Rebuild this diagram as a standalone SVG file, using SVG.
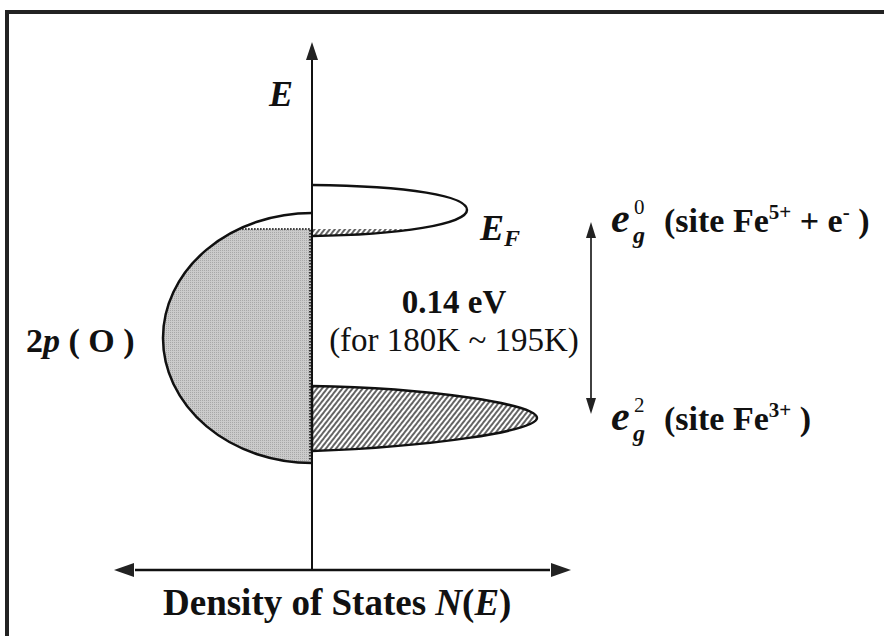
<svg xmlns="http://www.w3.org/2000/svg" width="884" height="636" viewBox="0 0 884 636">
<style>
.t{font-family:"Liberation Serif","Times New Roman",serif;fill:#111}
.b{font-weight:bold}
.i{font-style:italic}
.ol{stroke:#111;stroke-width:2.5;fill:none}
</style>
<defs>
<pattern id="grey" width="2" height="2" patternUnits="userSpaceOnUse">
<rect width="2" height="2" fill="#cbcbcb"/><rect width="1" height="1" fill="#a8a8a8"/>
</pattern>
<pattern id="hatch" width="4" height="4" patternUnits="userSpaceOnUse" patternTransform="rotate(38)">
<rect width="4" height="4" fill="#fff"/><line x1="1" y1="0" x2="1" y2="4" stroke="#222" stroke-width="1.4"/>
</pattern>
<clipPath id="belowEF"><rect x="312" y="229" width="200" height="20"/></clipPath>
</defs>
<rect width="884" height="636" fill="#fff"/>
<g id="frame">
<line x1="5" y1="12" x2="884" y2="12" stroke="#222" stroke-width="4"/>
<line x1="7" y1="10" x2="7" y2="636" stroke="#222" stroke-width="4"/>
</g>
<g id="bands">
<g id="o2p">
<path d="M312,229 L239.1,229 A149,125 0 0,0 312,463 Z" fill="url(#grey)"/>
<path d="M239.1,229 L310,229 L310,461" fill="none" stroke="#333" stroke-width="2" stroke-dasharray="1.5 1.5"/>
<path d="M312,213 A149,125 0 0,0 312,463" class="ol"/>
</g>
<g id="eg0">
<path d="M312,185 C410,186 467,196 467,210 C467,224 400,235 312,236 Z" fill="url(#hatch)" clip-path="url(#belowEF)"/>
<path d="M312,185 C410,186 467,196 467,210 C467,224 400,235 312,236" class="ol"/>
</g>
<g id="eg2">
<path d="M312,386 C430,388 537,404 537,418 C537,431 430,447 312,451 Z" class="ol" style="fill:url(#hatch)"/>
</g>
</g>
<g id="connectors">
<line x1="312" y1="570" x2="312" y2="56" stroke="#111" stroke-width="2"/>
<path d="M312,42 L306,60 L318,60 Z" fill="#222"/>
<line x1="135" y1="570" x2="550" y2="570" stroke="#111" stroke-width="2.5"/>
<path d="M114,570 L134,563 L134,577 Z" fill="#222"/>
<path d="M571,570 L551,563 L551,577 Z" fill="#222"/>
<line x1="591" y1="236" x2="591" y2="400" stroke="#111" stroke-width="1.6"/>
<path d="M591,222 L586,238 L596,238 Z" fill="#222"/>
<path d="M591,414 L586,398 L596,398 Z" fill="#222"/>
</g>
<g id="labels">
<text class="t b i" x="269" y="106" font-size="36">E</text>
<text class="t b i" x="480" y="240" font-size="36">E<tspan font-size="24" dy="6">F</tspan></text>
<text class="t b" x="454" y="313" font-size="33" text-anchor="middle">0.14 eV</text>
<text class="t" x="454" y="351" font-size="33" text-anchor="middle">(for 180K ~ 195K)</text>
<text class="t b" x="26" y="352" font-size="34">2<tspan class="i">p</tspan> ( O )</text>
<text class="t b" x="163" y="615" font-size="37">Density of States  <tspan class="i">N</tspan>(<tspan class="i">E</tspan>)</text>
<g id="eg0label">
<text class="t b i" x="611" y="232" font-size="42">e</text>
<text class="t" x="634" y="214" font-size="21">0</text>
<text class="t b i" x="633" y="243" font-size="24">g</text>
<text class="t b" x="664" y="232" font-size="34">(site Fe<tspan font-size="21" dy="-13">5+</tspan><tspan dy="13"> + e</tspan><tspan font-size="21" dy="-13">-</tspan><tspan dy="13"> )</tspan></text>
</g>
<g id="eg2label">
<text class="t b i" x="611" y="430" font-size="42">e</text>
<text class="t" x="634" y="412" font-size="21">2</text>
<text class="t b i" x="633" y="441" font-size="24">g</text>
<text class="t b" x="664" y="430" font-size="34">(site Fe<tspan font-size="21" dy="-13">3+</tspan><tspan dy="13"> )</tspan></text>
</g>
</g>
</svg>
